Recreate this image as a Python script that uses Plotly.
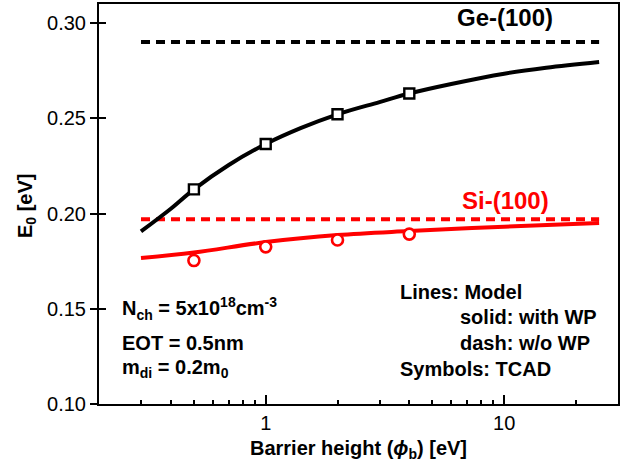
import math
import plotly.graph_objects as go

# Barrier height sweep for the model curves [eV]
phi_model_ge = [0.3, 0.4, 0.5, 0.7, 1, 1.4, 2, 3, 4, 6, 10, 15, 25]
e0_ge_wp = [0.1906, 0.2025, 0.2127, 0.2255, 0.2365, 0.2448, 0.2521, 0.2585,
            0.2630, 0.2680, 0.2734, 0.2765, 0.2795]

phi_model_si = [0.3, 0.5, 1, 2, 4, 10, 25]
e0_si_wp = [0.1766, 0.1795, 0.1850, 0.1887, 0.1908, 0.1931, 0.1950]

# Model without wave-function penetration (flat)
phi_flat = [0.3, 25]
e0_ge_nowp = [0.290, 0.290]
e0_si_nowp = [0.197, 0.197]

# TCAD results
phi_tcad = [0.5, 1, 2, 4]
e0_ge_tcad = [0.2127, 0.2365, 0.2521, 0.2630]
e0_si_tcad = [0.1753, 0.1825, 0.1861, 0.1892]

# Axis ticks
x_major = [1, 10]
x_major_text = ["1", "10"]
x_minor = [0.3, 0.4, 0.5, 0.6, 0.7, 0.8, 0.9, 2, 3, 4, 5, 6, 7, 8, 9, 20, 30]
y_ticks = [0.10, 0.15, 0.20, 0.25, 0.30]
y_tick_text = ["0.10", "0.15", "0.20", "0.25", "0.30"]

FONT = "Liberation Sans, Arial, sans-serif"
RED = "#ff0000"
BLACK = "#000000"
LW = 4
DASH = "9px,6px"

fig = go.Figure()

# Dashed: without WP
fig.add_trace(go.Scatter(x=phi_flat, y=e0_ge_nowp, mode="lines",
                         line=dict(color=BLACK, width=LW, dash=DASH)))
fig.add_trace(go.Scatter(x=phi_flat, y=e0_si_nowp, mode="lines",
                         line=dict(color=RED, width=LW, dash=DASH)))

# Solid: with WP
fig.add_trace(go.Scatter(x=phi_model_ge, y=e0_ge_wp, mode="lines",
                         line=dict(color=BLACK, width=LW, shape="spline", smoothing=1.0)))
fig.add_trace(go.Scatter(x=phi_model_si, y=e0_si_wp, mode="lines",
                         line=dict(color=RED, width=LW, shape="spline", smoothing=1.0)))

# TCAD symbols
fig.add_trace(go.Scatter(x=phi_tcad, y=e0_ge_tcad, mode="markers",
                         marker=dict(symbol="square", size=10, color="white",
                                     line=dict(color=BLACK, width=2.4))))
fig.add_trace(go.Scatter(x=phi_tcad, y=e0_si_tcad, mode="markers",
                         marker=dict(symbol="circle", size=11, color="white",
                                     line=dict(color=RED, width=2.6))))

x_range = [math.log10(0.2), math.log10(30)]
y_range = [0.10, 0.31]

fig.update_layout(
    width=635, height=465, autosize=False,
    margin=dict(l=99, r=17, t=2, b=61),
    paper_bgcolor="white", plot_bgcolor="white",
    showlegend=False,
    font=dict(family=FONT, color=BLACK, size=20),
    xaxis=dict(
        type="log", range=x_range,
        tickvals=x_major, ticktext=x_major_text,
        ticks="inside", ticklen=9, tickwidth=1.5, tickcolor=BLACK,
        showline=True, linewidth=2, linecolor=BLACK, mirror=True,
        showgrid=False, zeroline=False,
        tickfont=dict(size=20, family=FONT),
        title=dict(text="<b>Barrier height (<i>ϕ</i><sub>b</sub>) [eV]</b>",
                   font=dict(size=20, family=FONT), standoff=8),
    ),
    xaxis2=dict(
        type="log", range=x_range, overlaying="x", anchor="y", side="bottom",
        tickvals=x_minor, ticks="inside", ticklen=4, tickwidth=1.5, tickcolor=BLACK,
        showticklabels=False, showline=False, showgrid=False, zeroline=False,
    ),
    yaxis=dict(
        range=y_range, tickvals=y_ticks, ticktext=y_tick_text,
        ticks="outside", ticklen=7, tickwidth=1.5, tickcolor=BLACK,
        showline=True, linewidth=2, linecolor=BLACK, mirror=True,
        showgrid=False, zeroline=False,
        tickfont=dict(size=20, family=FONT),
    ),
    yaxis2=dict(
        range=y_range, overlaying="y", anchor="x", side="left",
        tickvals=y_ticks, ticks="inside", ticklen=7, tickwidth=1.5, tickcolor=BLACK,
        showticklabels=False, showline=False, showgrid=False, zeroline=False,
    ),
)

# Invisible helper traces so the overlay tick axes are rendered
fig.add_trace(go.Scatter(x=[1], y=[0.2], xaxis="x2", yaxis="y", mode="markers",
                         marker=dict(opacity=0), hoverinfo="skip"))
fig.add_trace(go.Scatter(x=[1], y=[0.2], xaxis="x", yaxis="y2", mode="markers",
                         marker=dict(opacity=0), hoverinfo="skip"))

PL, PR, PT, PB = 99, 618, 2, 404


def px(xp):
    return (xp - PL) / (PR - PL)


def py(yp):
    return (PB - yp) / (PB - PT)


def note(text, xp, yp, size=20, color=BLACK, xanchor="left", angle=0):
    fig.add_annotation(text=f"<b>{text}</b>", xref="paper", yref="paper",
                       x=px(xp), y=py(yp), xanchor=xanchor, yanchor="middle",
                       textangle=angle, showarrow=False,
                       font=dict(size=size, color=color, family=FONT))


# Y-axis title
note("E<sub>0</sub> [eV]", 27, 205, xanchor="center", angle=-90)

note("Ge-(100)", 455, 16, size=24)
note("Si-(100)", 460, 199, size=24, color=RED)

note("N<sub>ch</sub> = 5x10<sup>18</sup>cm<sup>-3</sup>", 120, 308)
note("EOT = 0.5nm", 120, 343)
note("m<sub>di</sub> = 0.2m<sub>0</sub>", 120, 368)

note("Lines: Model", 398, 291)
note("solid: with WP", 458, 317)
note("dash: w/o WP", 458, 343)
note("Symbols: TCAD", 398, 369)

fig.write_html("out.html")
